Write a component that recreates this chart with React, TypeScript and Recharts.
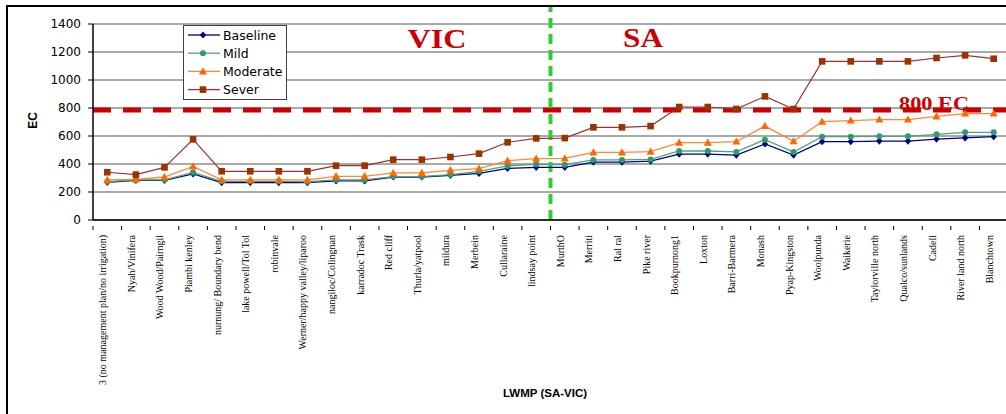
import React from 'react';
import { LineChart, Line, XAxis, YAxis, CartesianGrid, ReferenceLine, Legend } from 'recharts';

const categories = [
  '3 (no management plan/no irrigation)', 'Nyah/Vinifera', 'Wood Wood/Pairngil', 'Piambi kenley',
  'nurnung/ Boundary bend', 'lake powell/Tol Tol', 'robinvale', 'Werner/happy valley/liparoo',
  'nangiloc/Colingnan', 'karradoc Trask', 'Red cliff', 'Thurla/yatpool', 'mildura', 'Merbein',
  'Cullaraine', 'lindsay point', 'MurthO', 'Merriti', 'Ral ral', 'Pike river', 'Bookpurnong1',
  'Loxton', 'Barri-Barmera', 'Monash', 'Pyap-Kingston', 'Woolpunda', 'Waikerie',
  'Taylorville north', 'Qualco/sunlands', 'Cadell', 'River land north', 'Blanchtown',
];

const baseline = [269, 283, 283, 329, 267, 267, 267, 267, 279, 279, 307, 307, 319, 333, 369, 376, 376, 414, 414, 421, 471, 471, 464, 543, 464, 560, 560, 564, 564, 578, 586, 595];
const mild = [274, 286, 286, 340, 276, 276, 276, 274, 286, 286, 310, 310, 324, 348, 386, 398, 395, 429, 429, 433, 493, 493, 486, 574, 486, 595, 595, 598, 598, 612, 626, 626];
const moderate = [286, 290, 307, 383, 286, 286, 286, 286, 312, 312, 336, 336, 355, 367, 424, 438, 440, 483, 483, 488, 552, 552, 560, 671, 562, 702, 710, 717, 717, 740, 760, 760];
const sever = [341, 324, 376, 576, 348, 348, 348, 348, 388, 388, 431, 431, 450, 474, 555, 583, 585, 662, 662, 671, 807, 807, 793, 883, 793, 1133, 1133, 1133, 1133, 1157, 1176, 1152];

const yTicks = [0, 200, 400, 600, 800, 1000, 1200, 1400];
const thresholdValue = 785;
const boundaryIndex = 16;

const data = categories.map((name, i) => ({
  name,
  pos: i + 0.5,
  Baseline: baseline[i],
  Mild: mild[i],
  Moderate: moderate[i],
  Sever: sever[i],
}));

const CHART_W = 1008;
const PLOT_LEFT = 93;
const BAND = (CHART_W - PLOT_LEFT) / categories.length;

type Shape = 'diamond' | 'circle' | 'triangle' | 'square';
const series: { key: string; line: string; marker: string; shape: Shape; width: number }[] = [
  { key: 'Baseline', line: '#000080', marker: '#000080', shape: 'diamond', width: 1.3 },
  { key: 'Mild', line: '#4da67a', marker: '#339966', shape: 'circle', width: 1.3 },
  { key: 'Moderate', line: '#ff8833', marker: '#ff6600', shape: 'triangle', width: 1.3 },
  { key: 'Sever', line: '#993333', marker: '#993300', shape: 'square', width: 1.2 },
];

function Marker({ cx, cy, shape, color }: { cx: number; cy: number; shape: Shape; color: string }) {
  if (cx == null || cy == null || isNaN(cx) || isNaN(cy)) return null;
  switch (shape) {
    case 'diamond':
      return <polygon points={`${cx},${cy - 3.6} ${cx + 3.2},${cy} ${cx},${cy + 3.6} ${cx - 3.2},${cy}`} fill={color} />;
    case 'circle':
      return <circle cx={cx} cy={cy} r={3} fill={color} />;
    case 'triangle':
      return <polygon points={`${cx},${cy - 4.2} ${cx + 4},${cy + 3} ${cx - 4},${cy + 3}`} fill={color} />;
    default:
      return <rect x={cx - 3.3} y={cy - 3.3} width={6.6} height={6.6} fill={color} />;
  }
}

function XTick(props: any) {
  const { x, y, payload } = props;
  const bx = x - BAND / 2;
  return (
    <g>
      <line x1={bx} y1={y} x2={bx} y2={y + 4} stroke="#000" strokeWidth={1} />
      <text
        transform={`translate(${x - 1},${y + 9}) rotate(-90)`}
        textAnchor="end"
        fontFamily="'Liberation Serif', 'Times New Roman', serif"
        fontSize={10}
        fill="#000"
      >
        {payload.value}
      </text>
    </g>
  );
}

const renderLegend = () => (
  <svg width={104} height={75} style={{ display: 'block' }}>
    <rect x={0.5} y={0.5} width={103} height={74} fill="#fff" stroke="#404040" strokeWidth={1} />
    {series.map((s, i) => {
      const cy = 10 + i * 18.2;
      return (
        <g key={s.key}>
          <line x1={5} y1={cy} x2={37} y2={cy} stroke={s.line} strokeWidth={1.3} />
          <Marker cx={20} cy={cy} shape={s.shape} color={s.marker} />
          <text x={40} y={cy + 4.5} fontFamily="'DejaVu Sans', sans-serif" fontSize={12.5} fill="#000">
            {s.key}
          </text>
        </g>
      );
    })}
  </svg>
);

export default function App() {
  return (
    <div style={{ position: 'absolute', left: 0, top: 0, width: 1006, height: 414, overflow: 'hidden', background: '#fff' }}>
      <LineChart width={CHART_W} height={414} data={data} margin={{ top: 24, right: 0, left: 0, bottom: 24 }}>
        <CartesianGrid horizontal vertical={false} stroke="#555" strokeWidth={1} />
        <XAxis
          dataKey="name"
          scale="band"
          interval={0}
          height={170}
          tickLine={false}
          tickMargin={0}
          tick={<XTick />}
          axisLine={{ stroke: '#000', strokeWidth: 1.5 }}
        />
        <XAxis xAxisId="num" dataKey="pos" type="number" domain={[0, categories.length]} allowDataOverflow hide />
        <YAxis
          width={PLOT_LEFT}
          domain={[0, 1400]}
          ticks={yTicks}
          interval={0}
          tickSize={5}
          tickMargin={7}
          tick={{ fontFamily: "'DejaVu Sans', sans-serif", fontSize: 12, fill: '#000' }}
          tickLine={{ stroke: '#000' }}
          axisLine={{ stroke: '#000', strokeWidth: 1.5 }}
        />
        <ReferenceLine y={thresholdValue} stroke="#cc0000" strokeWidth={5} strokeDasharray="18 12" />
        <ReferenceLine
          xAxisId="num"
          segment={[{ x: boundaryIndex, y: 0 }, { x: boundaryIndex, y: 1530 }]}
          ifOverflow="visible"
          stroke="#33cc33"
          strokeWidth={4}
          strokeDasharray="10 6"
        />
        <Legend
          layout="horizontal"
          verticalAlign="middle"
          align="center"
          content={renderLegend}
          wrapperStyle={{ left: 183, top: 25, width: 104, height: 75 }}
        />
        {series.map((s) => (
          <Line
            key={s.key}
            dataKey={s.key}
            stroke={s.line}
            strokeWidth={s.width}
            isAnimationActive={false}
            dot={(p: any) => <Marker key={`${s.key}-${p.index}`} cx={p.cx} cy={p.cy} shape={s.shape} color={s.marker} />}
            activeDot={false}
          />
        ))}
      </LineChart>
      <svg width={1006} height={414} style={{ position: 'absolute', left: 0, top: 0, pointerEvents: 'none' }}>
        <rect x={7} y={6} width={1020} height={420} fill="none" stroke="#000" strokeWidth={2} />
        <text x={407.5} y={47.5} fontFamily="'Liberation Serif', serif" fontWeight="bold" fontSize={27} fill="#cc0000" textLength={59} lengthAdjust="spacingAndGlyphs">VIC</text>
        <text x={623} y={47.3} fontFamily="'Liberation Serif', serif" fontWeight="bold" fontSize={27} fill="#cc0000" textLength={40} lengthAdjust="spacingAndGlyphs">SA</text>
        <text x={899} y={109.5} fontFamily="'Liberation Serif', serif" fontWeight="bold" fontSize={19} fill="#cc0000" textLength={70} lengthAdjust="spacingAndGlyphs">800 EC</text>
        <text transform="translate(37,120.5) rotate(-90)" textAnchor="middle" fontFamily="'Liberation Sans', Arial, sans-serif" fontWeight="bold" fontSize={12} fill="#000">EC</text>
        <text x={545} y={397} textAnchor="middle" fontFamily="'Liberation Sans', Arial, sans-serif" fontWeight="bold" fontSize={11.5} fill="#000">LWMP (SA-VIC)</text>
      </svg>
    </div>
  );
}
